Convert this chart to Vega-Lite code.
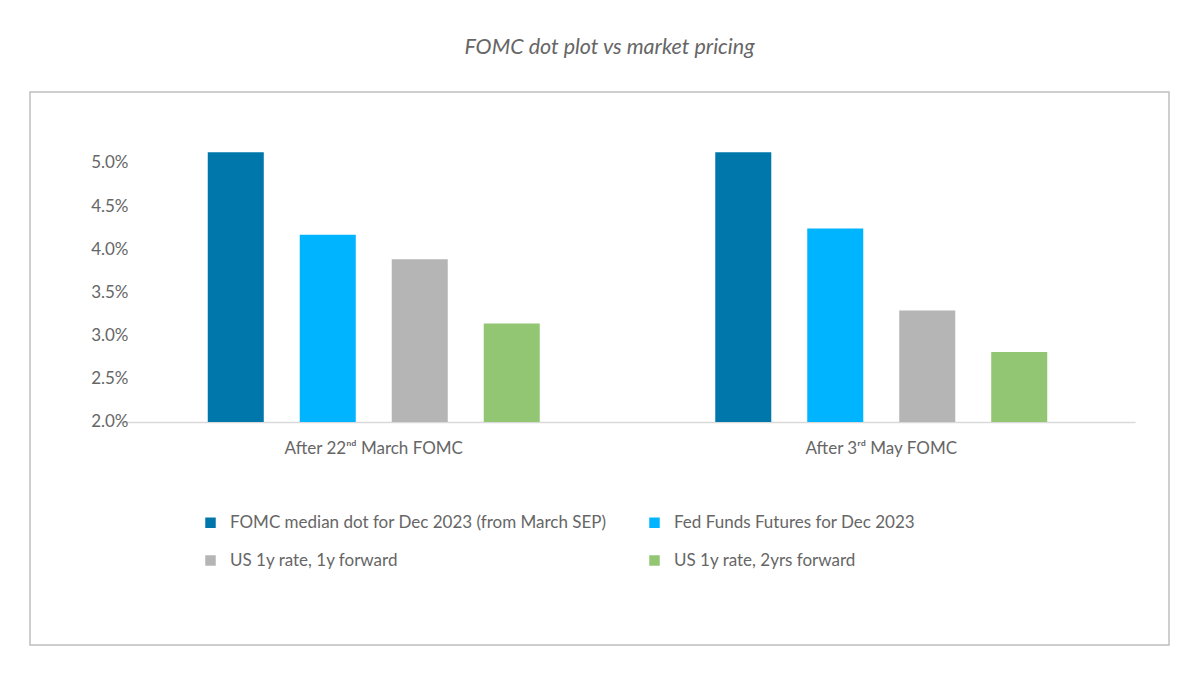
{
  "$schema": "https://vega.github.io/schema/vega-lite/v6.json",
  "autosize": {"type": "none"},
  "padding": {"left": 30, "top": 92, "right": 31, "bottom": 38},
  "width": 1139,
  "height": 553,
  "background": "white",
  "title": {
    "text": "FOMC dot plot vs market pricing",
    "font": "Lato",
    "fontSize": 21.5,
    "fontStyle": "italic",
    "fontWeight": "normal",
    "color": "#666666",
    "anchor": "middle",
    "dx": 10,
    "offset": 34
  },
  "config": {
    "view": {"stroke": "#BFBFBF", "strokeWidth": 1.5},
    "font": "Lato"
  },
  "data": {
    "values": [
      {"group": "After 22ⁿᵈ March FOMC", "series": "FOMC median dot for Dec 2023 (from March SEP)", "value": 5.125},
      {"group": "After 22ⁿᵈ March FOMC", "series": "Fed Funds Futures for Dec 2023", "value": 4.17},
      {"group": "After 22ⁿᵈ March FOMC", "series": "US 1y rate, 1y forward", "value": 3.885},
      {"group": "After 22ⁿᵈ March FOMC", "series": "US 1y rate, 2yrs forward", "value": 3.14},
      {"group": "After 3ʳᵈ May FOMC", "series": "FOMC median dot for Dec 2023 (from March SEP)", "value": 5.125},
      {"group": "After 3ʳᵈ May FOMC", "series": "Fed Funds Futures for Dec 2023", "value": 4.24},
      {"group": "After 3ʳᵈ May FOMC", "series": "US 1y rate, 1y forward", "value": 3.29},
      {"group": "After 3ʳᵈ May FOMC", "series": "US 1y rate, 2yrs forward", "value": 2.81}
    ]
  },
  "mark": {"type": "bar"},
  "encoding": {
    "x": {
      "field": "group",
      "type": "nominal",
      "sort": null,
      "scale": {"range": [90, 1105], "paddingInner": 0, "paddingOuter": 0},
      "axis": {
        "title": null,
        "labelAngle": 0,
        "labelFontSize": 17,
        "labelColor": "#666666",
        "labelPadding": 18,
        "ticks": false,
        "domain": true,
        "domainColor": "#D9D9D9",
        "domainWidth": 1.5,
        "offset": -223
      }
    },
    "xOffset": {
      "field": "series",
      "type": "nominal",
      "sort": null,
      "scale": {"paddingInner": 0.391, "paddingOuter": 0.954}
    },
    "y": {
      "field": "value",
      "type": "quantitative",
      "scale": {"domain": [-0.583, 5.822], "nice": false, "zero": false},
      "axis": {
        "title": null,
        "values": [2, 2.5, 3, 3.5, 4, 4.5, 5],
        "labelExpr": "format(datum.value, '.1f') + '%'",
        "labelFontSize": 17,
        "labelColor": "#666666",
        "ticks": false,
        "tickSize": 0,
        "labelPadding": 0,
        "domain": false,
        "grid": false,
        "offset": -98
      }
    },
    "y2": {"datum": 2},
    "color": {
      "field": "series",
      "type": "nominal",
      "sort": null,
      "scale": {
        "domain": ["FOMC median dot for Dec 2023 (from March SEP)", "Fed Funds Futures for Dec 2023", "US 1y rate, 1y forward", "US 1y rate, 2yrs forward"],
        "range": ["#0077AA", "#00B4FF", "#B5B5B5", "#92C673"]
      },
      "legend": {
        "title": null,
        "orient": "none",
        "direction": "horizontal",
        "legendX": 172,
        "legendY": 422,
        "columns": 2,
        "columnPadding": 39,
        "rowPadding": 20,
        "symbolType": "square",
        "symbolSize": 110,
        "symbolStrokeWidth": 0,
        "labelFontSize": 17,
        "labelColor": "#666666",
        "labelOffset": 11,
        "labelLimit": 500
      }
    }
  }
}
